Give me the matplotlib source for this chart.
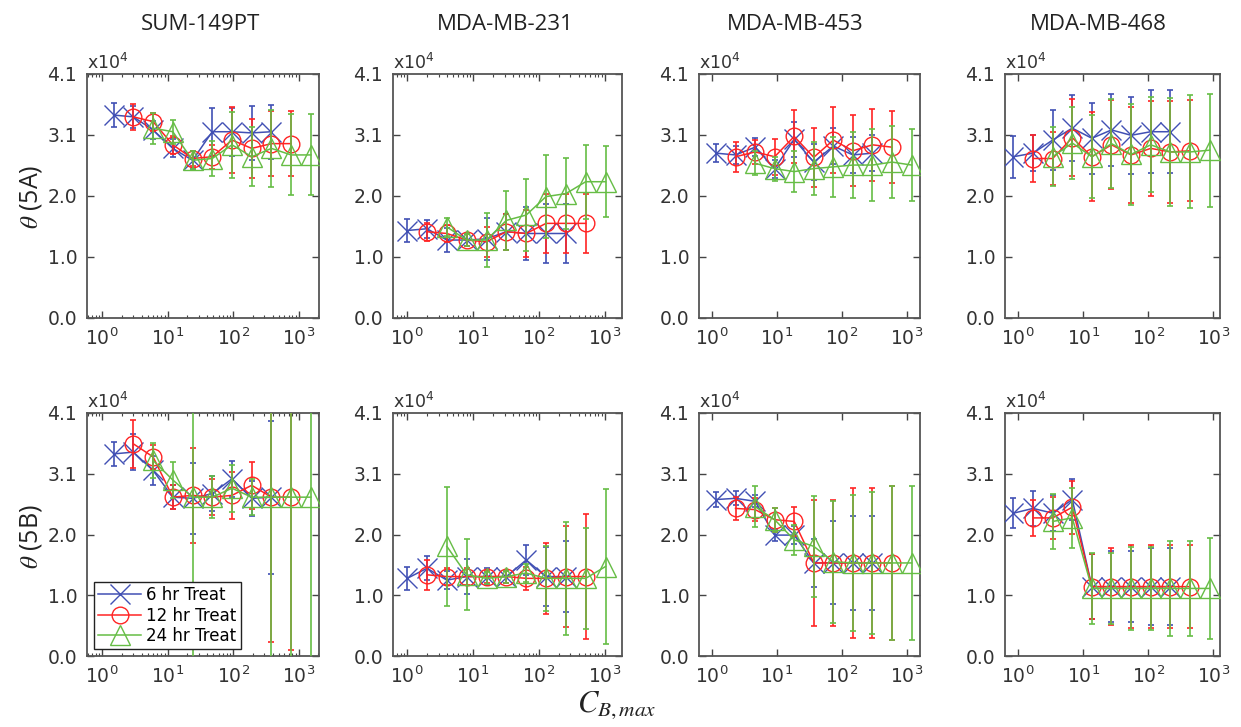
import matplotlib
matplotlib.use("Agg")
import matplotlib.pyplot as plt

CELLS = ["SUM-149PT", "MDA-MB-231", "MDA-MB-453", "MDA-MB-468"]
ROWS = ["5A", "5B"]
SERIES = ["6 hr Treat", "12 hr Treat", "24 hr Treat"]

# C_B,max grid per cell line; 6 hr uses [0:9], 12 hr [1:10], 24 hr [2:11]
CB_SUM149 = [1.5, 3, 6, 12, 24, 48, 96, 192, 384, 768, 1536]
CB_MB231 = [1, 2, 4, 8, 16, 32, 64, 128, 256, 512, 1024]
CB_MB453 = [1.15, 2.3, 4.6, 9.2, 18.4, 36.8, 73.6, 147, 294, 589, 1178]
CB_MB468 = [0.85, 1.7, 3.4, 6.8, 13.6, 27.2, 54.4, 109, 218, 435, 870]

# theta (x1e4) per panel: [6 hr, 12 hr, 24 hr]
A_SUM149 = [[3.41, 3.38, 3.16, 2.85, 2.65, 3.13, 3.13, 3.11, 3.13],
            [3.38, 3.30, 2.91, 2.68, 2.71, 2.99, 2.85, 2.93, 2.93],
            [3.19, 3.13, 2.65, 2.68, 2.91, 2.71, 2.85, 2.74, 2.74]]
A_SUM149_ERR = [[0.2, 0.18, 0.15, 0.15, 0.15, 0.4, 0.4, 0.45, 0.45],
                [0.22, 0.15, 0.15, 0.12, 0.2, 0.55, 0.5, 0.55, 0.55],
                [0.26, 0.2, 0.15, 0.3, 0.55, 0.5, 0.65, 0.68, 0.68]]
A_MB231 = [[1.47, 1.50, 1.31, 1.31, 1.33, 1.45, 1.42, 1.42, 1.42],
           [1.45, 1.42, 1.31, 1.28, 1.45, 1.42, 1.59, 1.59, 1.59],
           [1.53, 1.31, 1.31, 1.64, 1.73, 2.04, 2.09, 2.29, 2.29]]
A_MB231_ERR = [[0.2, 0.15, 0.2, 0.1, 0.35, 0.3, 0.45, 0.5, 0.5],
               [0.15, 0.15, 0.1, 0.25, 0.3, 0.4, 0.5, 0.5, 0.5],
               [0.15, 0.1, 0.45, 0.5, 0.6, 0.7, 0.6, 0.62, 0.6]]
A_MB453 = [[2.77, 2.74, 2.87, 2.51, 3.0, 2.62, 2.89, 2.74, 2.77],
           [2.71, 2.79, 2.71, 3.05, 2.70, 2.99, 2.81, 2.91, 2.87],
           [2.60, 2.51, 2.46, 2.51, 2.54, 2.57, 2.57, 2.62, 2.57]]
A_MB453_ERR = [[0.15, 0.15, 0.15, 0.15, 0.3, 0.3, 0.3, 0.3, 0.3],
               [0.25, 0.2, 0.3, 0.45, 0.5, 0.55, 0.6, 0.6, 0.6],
               [0.2, 0.2, 0.35, 0.45, 0.5, 0.55, 0.6, 0.6, 0.6]]
A_MB468 = [[2.71, 2.77, 2.99, 3.19, 3.02, 3.16, 3.07, 3.13, 3.13],
           [2.68, 2.68, 3.03, 2.71, 2.91, 2.74, 2.85, 2.79, 2.81],
           [2.71, 2.94, 2.71, 2.93, 2.75, 2.91, 2.79, 2.79, 2.82]]
A_MB468_ERR = [[0.35, 0.3, 0.5, 0.55, 0.6, 0.6, 0.65, 0.7, 0.7],
               [0.4, 0.45, 0.65, 0.75, 0.75, 0.8, 0.8, 0.85, 0.85],
               [0.5, 0.6, 0.7, 0.75, 0.85, 0.8, 0.9, 0.95, 0.95]]

B_SUM149 = [[3.41, 3.44, 3.13, 2.68, 2.66, 2.74, 2.99, 2.66, 2.68],
            [3.58, 3.36, 2.68, 2.71, 2.68, 2.71, 2.88, 2.68, 2.68],
            [3.30, 2.97, 2.68, 2.68, 2.83, 2.68, 2.68, 2.68, 2.68]]
B_SUM149_ERR = [[0.2, 0.3, 0.25, 0.2, 0.6, 0.3, 0.3, 0.3, 1.29],
                [0.4, 0.2, 0.2, 0.8, 0.3, 0.4, 0.4, 2.45, 2.58],
                [0.3, 0.3, 3.5, 0.35, 0.4, 0.3, 3.5, 3.5, 3.5]]
B_MB231 = [[1.31, 1.48, 1.28, 1.34, 1.34, 1.34, 1.62, 1.34, 1.34],
           [1.37, 1.34, 1.34, 1.34, 1.34, 1.31, 1.31, 1.34, 1.34],
           [1.85, 1.37, 1.31, 1.34, 1.40, 1.31, 1.31, 1.31, 1.51]]
B_MB231_ERR = [[0.2, 0.2, 0.15, 0.3, 0.15, 0.1, 0.25, 0.5, 0.6],
               [0.25, 0.15, 0.15, 0.1, 0.1, 0.2, 0.6, 0.85, 1.05],
               [1.0, 0.6, 0.1, 0.1, 0.15, 0.55, 0.95, 0.85, 1.3]]
B_MB453 = [[2.64, 2.66, 2.61, 2.04, 2.04, 1.57, 1.57, 1.57, 1.57],
           [2.49, 2.47, 2.30, 2.27, 1.57, 1.57, 1.57, 1.57, 1.57],
           [2.52, 2.30, 1.96, 1.85, 1.59, 1.57, 1.57, 1.57, 1.57]]
B_MB453_ERR = [[0.12, 0.12, 0.1, 0.1, 0.15, 0.4, 0.7, 0.8, 0.8],
               [0.2, 0.2, 0.2, 0.25, 1.07, 1.07, 1.27, 1.27, 1.3],
               [0.35, 0.2, 0.25, 0.85, 1.03, 1.14, 1.2, 1.3, 1.3]]
B_MB468 = [[2.41, 2.49, 2.41, 2.64, 1.17, 1.17, 1.17, 1.17, 1.17],
           [2.33, 2.33, 2.51, 1.17, 1.17, 1.17, 1.17, 1.17, 1.17],
           [2.27, 2.33, 1.14, 1.14, 1.14, 1.14, 1.14, 1.14, 1.14]]
B_MB468_ERR = [[0.25, 0.3, 0.3, 0.35, 0.55, 0.6, 0.6, 0.65, 0.65],
               [0.3, 0.35, 0.45, 0.55, 0.65, 0.7, 0.7, 0.7, 0.7],
               [0.47, 0.5, 0.6, 0.6, 0.7, 0.7, 0.8, 0.8, 0.85]]

YTICKS = [0, 1.025, 2.05, 3.075, 4.1]
YTICK_LABELS = ["0.0", "1.0", "2.0", "3.1", "4.1"]

CB = [CB_SUM149, CB_MB231, CB_MB453, CB_MB468]
THETA = [[A_SUM149, A_MB231, A_MB453, A_MB468], [B_SUM149, B_MB231, B_MB453, B_MB468]]
THETA_ERR = [[A_SUM149_ERR, A_MB231_ERR, A_MB453_ERR, A_MB468_ERR],
             [B_SUM149_ERR, B_MB231_ERR, B_MB453_ERR, B_MB468_ERR]]

# ---- layout (pixels of a 1241x727 canvas) ----
W, H = 1241, 727
LEFTS = [87, 393, 699, 1005]
WIDTHS = [232, 229, 221, 215]
XLIMS = [(10 ** -0.23, 10 ** 3.31), (10 ** -0.215, 10 ** 3.26),
         (10 ** -0.2, 10 ** 3.2), (10 ** -0.2, 10 ** 3.1)]
ROW_TB = [(74, 318), (413, 656)]
TITLE_X = [200, 505, 795, 1098]
STYLE = [  # color, marker, size
    ("#4150b4", "x", 14),
    ("#ff2424", "o", 12),
    ("#66bd45", "^", 14),
]

fig = plt.figure(figsize=(W / 100, H / 100), dpi=100)

for r in range(2):
    top, bot = ROW_TB[r]
    for c in range(4):
        ax = fig.add_axes([LEFTS[c] / W, (H - bot) / H, WIDTHS[c] / W, (bot - top) / H])
        ax.set_xscale("log")
        for s in range(3):
            col, mk, ms = STYLE[s]
            xs = CB[c][s:s + 9]
            ys = THETA[r][c][s]
            es = THETA_ERR[r][c][s]
            ax.errorbar(xs, ys, yerr=es, fmt="none", ecolor=col, elinewidth=1.2,
                        capsize=2, capthick=1.2, zorder=2 + s)
            ax.plot(xs, ys, color=col, marker=mk, ms=ms, mfc="none", mec=col, mew=1.0,
                    lw=1.1, label=SERIES[s], zorder=3 + s)
        ax.set_xlim(*XLIMS[c])
        ax.set_ylim(0, 4.1)
        ax.set_yticks(YTICKS)
        ax.set_yticklabels(YTICK_LABELS)
        ax.set_xticks([1, 10, 100, 1000])
        ax.tick_params(which="both", direction="in", top=True, right=True,
                       color="#444444", labelcolor="#333333", labelsize=13.5)
        ax.tick_params(which="major", length=5, width=1.0, pad=7)
        ax.tick_params(which="minor", length=2.5, width=0.8)
        for sp in ax.spines.values():
            sp.set_color("#555555")
            sp.set_linewidth(1.3)
        ax.text(0.0, 1.003, r"x10$^4$", transform=ax.transAxes, ha="left", va="bottom",
                fontsize=12.5, color="#333333")
        if r == 1 and c == 0:
            ax.legend(loc="lower left", bbox_to_anchor=(0.0, 0.0), fontsize=12,
                      frameon=True, fancybox=False, edgecolor="#222222", framealpha=1,
                      handlelength=2.6, borderpad=0.25, labelspacing=0.15,
                      handletextpad=0.3, borderaxespad=0.4)

for c in range(4):
    fig.text(TITLE_X[c] / W, 1 - 25 / H, CELLS[c], ha="center", va="center",
             fontsize=16, family="Open Sans", color="#222222")

for r, yc in enumerate([197, 537]):
    fig.text(31 / W, 1 - yc / H, r"$\theta$ (5" + ROWS[r][1] + ")", rotation=90,
             ha="center", va="center", fontsize=18, family="Open Sans",
             math_fontfamily="stix", color="#222222")

fig.text(617 / W, 1 - 705 / H, r"$C_{B,max}$", ha="center", va="center",
         fontsize=22, math_fontfamily="stix", color="#222222")

fig.savefig("out.png", dpi=100)
